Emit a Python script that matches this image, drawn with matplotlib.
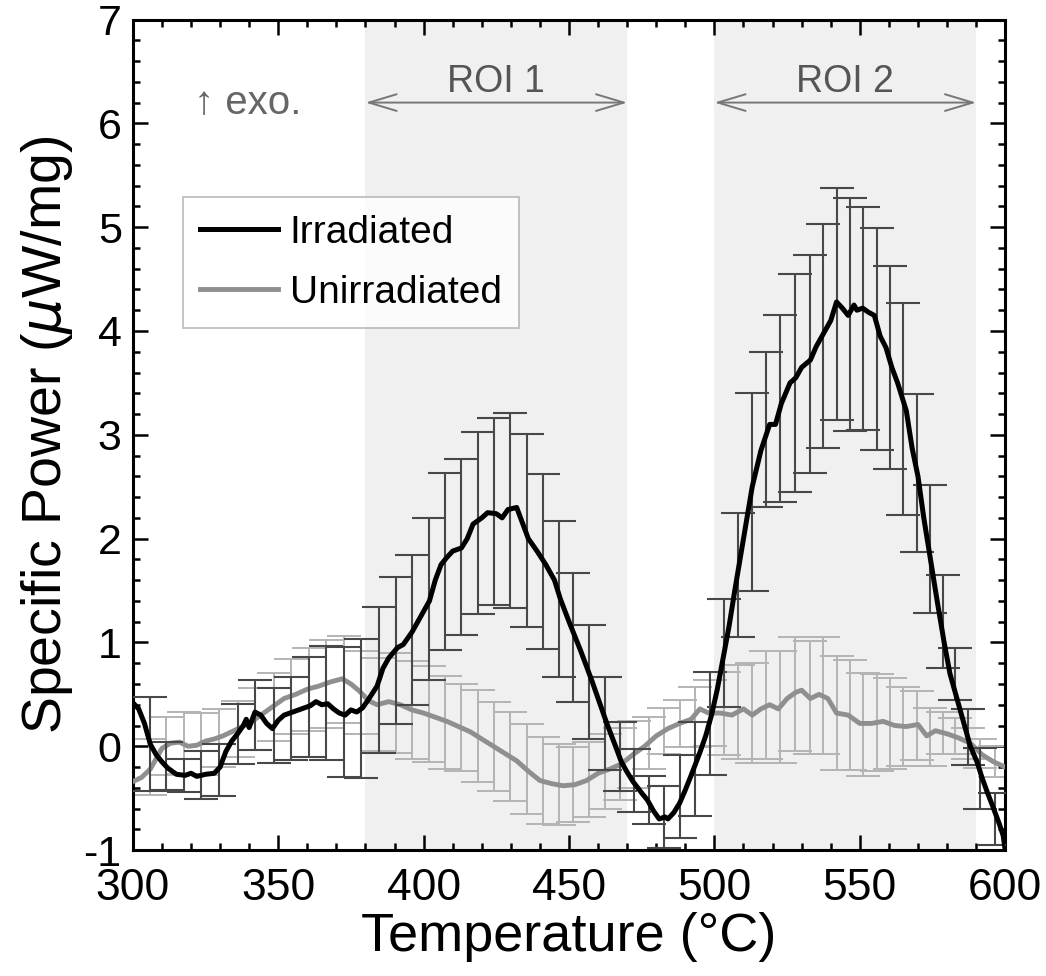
import numpy as np
import matplotlib
matplotlib.use('Agg')
import matplotlib.pyplot as plt
from matplotlib.ticker import MultipleLocator

plt.rcParams['font.family'] = ['Liberation Sans', 'DejaVu Sans']

# mean curves
irr_T = [300, 302, 304, 306, 308, 310, 312, 315, 318, 320, 322, 325, 328, 330, 332, 334, 336, 338, 339,
         340, 342, 344, 346, 348, 350, 352, 355, 358, 361, 363, 365, 367, 369, 371, 373, 375, 377, 379,
         381, 384, 386, 388, 391, 393, 396, 399, 402, 404, 406, 408, 410, 413, 415, 417, 420, 422, 425,
         427, 429, 432, 434, 436, 439, 442, 445, 447, 450, 454, 458, 461, 463, 466, 468, 470, 472, 475,
         477, 479, 481, 483, 484, 486, 488, 490, 492, 495, 497, 499, 501, 503, 505, 507, 510, 513, 516,
         519, 521, 523, 526, 528, 530, 533, 535, 537, 540, 542, 544, 546, 548, 549, 551, 553, 555, 557,
         559, 561, 563, 566, 568, 570, 572, 574, 576.6, 579, 581, 583.4, 586, 588, 590.3, 592, 593.8,
         596, 598, 599.3, 600]
irr_P = [0.42, 0.36, 0.22, 0.02, -0.08, -0.15, -0.21, -0.27, -0.28, -0.26, -0.29, -0.27, -0.26, -0.2,
         -0.05, 0.05, 0.12, 0.2, 0.26, 0.18, 0.33, 0.3, 0.22, 0.17, 0.25, 0.3, 0.33, 0.36, 0.39, 0.43,
         0.4, 0.41, 0.36, 0.32, 0.3, 0.35, 0.33, 0.37, 0.45, 0.58, 0.75, 0.85, 0.95, 0.98, 1.1, 1.25,
         1.4, 1.6, 1.75, 1.82, 1.88, 1.91, 2.0, 2.14, 2.2, 2.25, 2.24, 2.2, 2.28, 2.3, 2.15, 2.0, 1.88,
         1.75, 1.6, 1.42, 1.2, 0.92, 0.62, 0.38, 0.22, 0.0, -0.15, -0.25, -0.34, -0.45, -0.52, -0.62,
         -0.7, -0.68, -0.7, -0.64, -0.55, -0.42, -0.28, -0.06, 0.1, 0.3, 0.55, 0.85, 1.15, 1.5, 2.0,
         2.5, 2.85, 3.1, 3.1, 3.3, 3.5, 3.55, 3.65, 3.72, 3.85, 3.95, 4.1, 4.28, 4.22, 4.15, 4.25, 4.2,
         4.22, 4.18, 4.15, 3.95, 3.84, 3.65, 3.5, 3.23, 2.87, 2.6, 2.2, 1.85, 1.4, 1.0, 0.7, 0.46, 0.2,
         0.0, -0.15, -0.3, -0.44, -0.6, -0.75, -0.86, -1.0]

unirr_T = [300, 303, 306, 310, 313, 316, 319, 322, 325, 328, 331, 334, 337, 340, 344, 348, 352, 356, 360,
           364, 368, 372, 375, 378, 381, 384, 388, 392, 396, 400, 404, 408, 412, 416, 420, 424, 428, 432,
           436, 440, 444, 448, 452, 456, 460, 464, 468, 472, 476, 480, 484, 488, 492, 495, 498, 502, 506,
           510, 513, 516, 519, 522, 525, 528, 530, 533, 536, 539, 542, 546, 550, 554, 558, 562, 566, 570,
           573, 576, 580, 584, 588, 592, 596, 600]
unirr_P = [-0.34, -0.3, -0.22, -0.02, 0.03, 0.04, 0.0, 0.01, 0.05, 0.07, 0.1, 0.14, 0.18, 0.22, 0.3, 0.38,
           0.46, 0.5, 0.55, 0.58, 0.62, 0.65, 0.6, 0.53, 0.44, 0.4, 0.43, 0.4, 0.35, 0.32, 0.28, 0.24,
           0.19, 0.14, 0.07, 0.0, -0.07, -0.14, -0.24, -0.33, -0.36, -0.38, -0.37, -0.33, -0.26, -0.22,
           -0.17, -0.08, 0.0, 0.1, 0.17, 0.22, 0.26, 0.36, 0.32, 0.32, 0.3, 0.36, 0.3, 0.36, 0.4, 0.36,
           0.46, 0.52, 0.54, 0.46, 0.5, 0.46, 0.32, 0.3, 0.22, 0.22, 0.24, 0.2, 0.19, 0.21, 0.1, 0.15,
           0.12, 0.08, 0.03, -0.08, -0.15, -0.2]

# error bar positions (shared by both series)
err_T = [305.8, 311.5, 317.5, 323.5, 329.5, 336, 342, 348.5, 354.5, 360.5, 366.5, 372.5, 378.5, 384.5,
         390.5, 396, 401.8, 407.3, 413, 418.8, 424.3, 429.8, 435.4, 441, 446.5, 451.5, 457, 462.4, 467.5,
         472.5, 477.6, 482.8, 488.2, 493.3, 498.5, 503.3, 508.1, 512.9, 517.8, 522.6, 527.7, 532.9, 537.2,
         542.3, 546.6, 551.2, 556, 560.5, 565, 569.7, 574.2, 578.7, 582.8, 587.2, 591.4, 596.5]
irr_err_c = [0.02, -0.19, -0.28, -0.28, -0.23, 0.12, 0.30, 0.20, 0.27, 0.38, 0.42, 0.33, 0.36, 0.64,
             0.92, 1.12, 1.42, 1.78, 1.92, 2.15, 2.26, 2.27, 2.08, 1.78, 1.42, 1.05, 0.62, 0.22, -0.10,
             -0.33, -0.52, -0.68, -0.48, -0.22, 0.22, 0.90, 1.65, 2.45, 3.05, 3.25, 3.50, 3.68, 3.95,
             4.26, 4.16, 4.12, 3.92, 3.65, 3.25, 2.63, 1.90, 1.20, 0.70, 0.09, -0.31, -0.70]
irr_err = [0.45, 0.23, 0.16, 0.23, 0.25, 0.29, 0.34, 0.36, 0.40, 0.48, 0.55, 0.63, 0.67, 0.70, 0.71,
           0.72, 0.78, 0.85, 0.85, 0.88, 0.90, 0.94, 0.93, 0.84, 0.75, 0.62, 0.55, 0.45, 0.33, 0.30,
           0.23, 0.30, 0.40, 0.45, 0.50, 0.52, 0.60, 0.95, 0.75, 0.90, 1.05, 1.05, 1.08, 1.12, 1.12,
           1.07, 1.07, 0.98, 1.02, 0.76, 0.62, 0.45, 0.25, 0.27, 0.29, 0.25]
unirr_err_c = [-0.2, 0.0, 0.03, 0.02, 0.08, 0.17, 0.26, 0.38, 0.48, 0.55, 0.6, 0.64, 0.52, 0.4, 0.42,
               0.35, 0.31, 0.23, 0.18, 0.1, 0.0, -0.1, -0.22, -0.33, -0.37, -0.37, -0.32, -0.24, -0.17,
               -0.08, 0.03, 0.15, 0.22, 0.28, 0.32, 0.32, 0.33, 0.32, 0.4, 0.38, 0.5, 0.47, 0.49, 0.32,
               0.3, 0.21, 0.23, 0.22, 0.19, 0.2, 0.09, 0.13, 0.1, 0.03, -0.07, -0.15]
unirr_err = [0.27, 0.28, 0.3, 0.3, 0.28, 0.27, 0.3, 0.33, 0.36, 0.4, 0.42, 0.42, 0.4, 0.45, 0.48, 0.47,
             0.46, 0.45, 0.42, 0.44, 0.43, 0.43, 0.43, 0.42, 0.39, 0.36, 0.36, 0.36, 0.35, 0.32, 0.25,
             0.22, 0.23, 0.29, 0.32, 0.4, 0.45, 0.48, 0.52, 0.54, 0.55, 0.54, 0.56, 0.55, 0.53, 0.5,
             0.47, 0.44, 0.38, 0.33, 0.28, 0.2, 0.17, 0.15, 0.14, 0.15]

roi_spans = [(380, 470), (500, 590)]
roi_labels = ['ROI 1', 'ROI 2']

fig = plt.figure(figsize=(10.46, 9.76), dpi=100)
ax = fig.add_axes([0.127, 0.129, 0.834, 0.851])

for (a, b), lab in zip(roi_spans, roi_labels):
    ax.axvspan(a, b, color='#f0f0f0', zorder=0, lw=0)
    ax.annotate('', xy=(a, 6.2), xytext=(b, 6.2),
                arrowprops=dict(arrowstyle='<->, head_length=2.0, head_width=0.6',
                                color='#777777', lw=1.4, shrinkA=0, shrinkB=0))
    ax.text((a + b) / 2, 6.3, lab, ha='center', va='baseline', fontsize=27, color='#555555')

ax.text(321, 6.2, '\u2191 exo.', ha='left', va='center', fontsize=29, color='#666666')

ax.errorbar(err_T, unirr_err_c, yerr=unirr_err, fmt='none', ecolor='#b4b4b4',
            elinewidth=1.4, capsize=12, capthick=1.4, zorder=2)
ax.plot(unirr_T, unirr_P, color='#8f8f8f', lw=3.5, label='Unirradiated', zorder=3)
ax.errorbar(err_T, irr_err_c, yerr=irr_err, fmt='none', ecolor='#484848',
            elinewidth=1.5, capsize=12, capthick=1.5, zorder=4)
ax.plot(irr_T, irr_P, color='black', lw=3.6, label='Irradiated', zorder=5)

ax.set_xlim(300, 600)
ax.set_ylim(-1, 7)
ax.xaxis.set_major_locator(MultipleLocator(50))
ax.xaxis.set_minor_locator(MultipleLocator(10))
ax.yaxis.set_major_locator(MultipleLocator(1))
ax.yaxis.set_minor_locator(MultipleLocator(0.2))
ax.tick_params(which='both', direction='in', top=True, right=True, width=1.8)
ax.tick_params(which='major', length=11)
ax.tick_params(which='minor', length=5)
ax.tick_params(axis='y', labelsize=31, pad=8)
ax.tick_params(axis='x', labelsize=32, pad=13)
ax.set_yticks(range(-1, 8))
ax.set_yticklabels([str(v) for v in range(-1, 8)])
for s in ax.spines.values():
    s.set_linewidth(2.2)

ax.set_xlabel('Temperature (\u00b0C)', fontsize=39, labelpad=2)
ax.set_ylabel('Specific Power ($\\mu$W/mg)', fontsize=40, labelpad=6)

handles, labels = ax.get_legend_handles_labels()
leg = ax.legend(handles[::-1], labels[::-1], loc='upper left', bbox_to_anchor=(0.057, 0.786),
                fontsize=28, frameon=True, fancybox=False, edgecolor='#b0b0b0',
                handlelength=2.0, handletextpad=0.3, borderpad=0.45, labelspacing=0.62,
                borderaxespad=0)
leg.get_frame().set_linewidth(1.3)

fig.savefig('out.png', dpi=100)
